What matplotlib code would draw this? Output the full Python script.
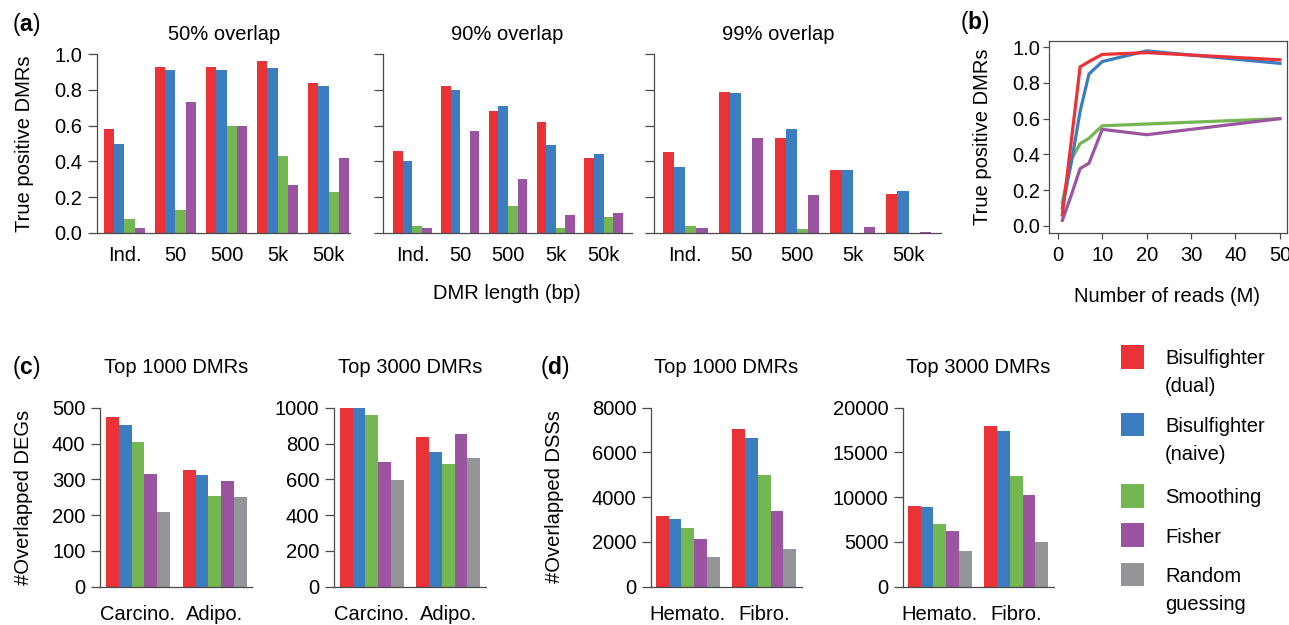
import matplotlib
matplotlib.use('Agg')
import matplotlib.pyplot as plt
from matplotlib.patches import Rectangle
import numpy as np

plt.rcParams['font.family'] = ['Liberation Sans', 'DejaVu Sans']
plt.rcParams['mathtext.fontset'] = 'custom'
plt.rcParams['mathtext.rm'] = 'Liberation Sans'
plt.rcParams['mathtext.bf'] = 'Liberation Sans:bold'

# methods and colours (shared by all panels)
methods = ['Bisulfighter\n(dual)', 'Bisulfighter\n(naive)', 'Smoothing', 'Fisher', 'Random\nguessing']
colors = ['#EA3337', '#3C7DC0', '#74B652', '#9B54A0', '#949599']

# panel (a): true positive DMRs by DMR length, one list per overlap level
dmr_lengths = ['Ind.', '50', '500', '5k', '50k']
overlaps = ['50% overlap', '90% overlap', '99% overlap']
a_dual = [[0.58, 0.93, 0.93, 0.96, 0.84], [0.46, 0.82, 0.68, 0.62, 0.42], [0.45, 0.79, 0.53, 0.35, 0.22]]
a_naive = [[0.50, 0.91, 0.91, 0.92, 0.82], [0.40, 0.80, 0.71, 0.49, 0.44], [0.37, 0.78, 0.58, 0.35, 0.235]]
a_smooth = [[0.08, 0.13, 0.60, 0.43, 0.23], [0.04, 0.0, 0.15, 0.03, 0.09], [0.04, 0.0, 0.02, 0.0, 0.0]]
a_fisher = [[0.03, 0.73, 0.60, 0.27, 0.42], [0.03, 0.57, 0.30, 0.10, 0.11], [0.03, 0.53, 0.21, 0.035, 0.006]]

# panel (b): true positive DMRs vs number of reads
reads = [1, 3, 5, 7, 10, 20, 50]
b_dual = [0.06, 0.47, 0.89, 0.92, 0.96, 0.97, 0.93]
b_naive = [0.10, 0.35, 0.64, 0.85, 0.92, 0.98, 0.91]
b_smooth = [0.13, 0.37, 0.46, 0.49, 0.56, 0.57, 0.60]
b_fisher = [0.03, 0.17, 0.32, 0.35, 0.54, 0.51, 0.60]

# panel (c): overlapped DEGs (dual, naive, smoothing, fisher, random)
c_cells = ['Carcino.', 'Adipo.']
deg_top1000 = [[473, 325], [453, 311], [403, 254], [316, 294], [208, 251]]
deg_top3000 = [[1002, 838], [1006, 750], [961, 685], [695, 855], [594, 721]]

# panel (d): overlapped DSSs
d_cells = ['Hemato.', 'Fibro.']
dss_top1000 = [[3144, 7048], [3025, 6661], [2623, 4993], [2131, 3383], [1341, 1669]]
dss_top3000 = [[8976, 17955], [8901, 17397], [7002, 12335], [6257, 10212], [3955, 4961]]

W, H = 1289, 625
fig = plt.figure(figsize=(W / 100, H / 100), dpi=100)
FS = 14.5
GREY = '#4a4a4a'


def px_axes(l, r, t, b):
    return fig.add_axes([l / W, 1 - b / H, (r - l) / W, (b - t) / H])


def ftext(x, y, s, **kw):
    kw.setdefault('fontsize', FS)
    return fig.text(x / W, 1 - y / H, s, **kw)


def r_style(ax, ymax, yticks, labels=True, fmt='{:g}', xpad=10):
    for side in ['top', 'right']:
        ax.spines[side].set_visible(False)
    for side in ['left', 'bottom']:
        ax.spines[side].set_color(GREY)
        ax.spines[side].set_linewidth(0.9)
    ax.spines['left'].set_bounds(0, ymax)
    ax.set_ylim(0, ymax)
    ax.set_yticks(yticks)
    ax.set_yticklabels([fmt.format(v) for v in yticks] if labels else [])
    ax.tick_params(axis='y', direction='out', length=6.5, width=0.9, color=GREY,
                   labelsize=FS, pad=4)
    ax.tick_params(axis='x', length=0, labelsize=FS, pad=xpad)


def grouped_bars(ax, series, cats, xlim, gap=1):
    n = len(series)
    for j, vals in enumerate(series):
        x = np.arange(len(cats)) * (n + gap) + j
        ax.bar(x, vals, width=1, align='edge', color=colors[j], linewidth=0)
    ax.set_xticks(np.arange(len(cats)) * (n + gap) + n / 2)
    ax.set_xticklabels(cats)
    ax.set_xlim(*xlim)


# ---- panel (a)
a_boxes = [(97, 350, -0.69, 24.1), (383, 632, -1.08, 24.97), (654, 941, -0.8, 24.9)]
a_title_x = [224, 507, 778]
for k, (l, r, x0, x1) in enumerate(a_boxes):
    ax = px_axes(l, r, 54, 233)
    series = [a_dual[k], a_naive[k], a_smooth[k], a_fisher[k]]
    grouped_bars(ax, series, dmr_lengths, (x0, x1))
    r_style(ax, 1.0, [0, 0.2, 0.4, 0.6, 0.8, 1.0], labels=(k == 0), fmt='{:.1f}', xpad=9.5)
    ftext(a_title_x[k], 40.5, overlaps[k], ha='center', va='baseline')

ftext(25, 143.5, 'True positive DMRs', rotation=90, ha='center', va='center')
ftext(507, 299, 'DMR length (bp)', ha='center', va='baseline')
ftext(12, 24, r'($\mathbf{a}$)', fontsize=16.5, va='center')

# ---- panel (b)
axb = px_axes(1049, 1287, 40.7, 233)
for vals, c in [(b_smooth, colors[2]), (b_fisher, colors[3]), (b_naive, colors[1]), (b_dual, colors[0])]:
    axb.plot(reads, vals, color=c, lw=2.3, solid_joinstyle='miter')
axb.set_xlim(-2, 51.6)
axb.set_ylim(-0.041, 1.037)
axb.set_xticks([0, 10, 20, 30, 40, 50])
axb.set_yticks([0, 0.2, 0.4, 0.6, 0.8, 1.0])
axb.set_yticklabels(['{:.1f}'.format(v) for v in axb.get_yticks()])
for side in axb.spines.values():
    side.set_color(GREY)
    side.set_linewidth(0.9)
axb.tick_params(direction='out', length=4.5, width=0.9, color=GREY, labelsize=FS)
axb.tick_params(axis='y', pad=2)
axb.tick_params(axis='x', pad=5)
ftext(982, 137, 'True positive DMRs', rotation=90, ha='center', va='center')
ftext(1167, 302, 'Number of reads (M)', ha='center', va='baseline')
ftext(960, 22, r'($\mathbf{b}$)', fontsize=16.5, va='center')

# ---- panel (c)
axc1 = px_axes(100, 252, 407.7, 586.7)
grouped_bars(axc1, deg_top1000, c_cells, (-0.47, 11.41))
r_style(axc1, 500, [0, 100, 200, 300, 400, 500], xpad=13.5)
axc2 = px_axes(334, 486, 407.7, 586.7)
grouped_bars(axc2, deg_top3000, c_cells, (-0.47, 11.47))
r_style(axc2, 1000, [0, 200, 400, 600, 800, 1000], xpad=13.5)
ftext(176, 373, 'Top 1000 DMRs', ha='center', va='baseline')
ftext(410, 373, 'Top 3000 DMRs', ha='center', va='baseline')
ftext(23.5, 497, '#Overlapped DEGs', rotation=90, ha='center', va='center')
ftext(12, 367, r'($\mathbf{c}$)', fontsize=16.5, va='center')

# ---- panel (d)
axd1 = px_axes(651, 802, 407.7, 586.7)
grouped_bars(axd1, dss_top1000, d_cells, (-0.39, 11.47))
r_style(axd1, 8000, [0, 2000, 4000, 6000, 8000], xpad=13.5)
axd2 = px_axes(903, 1054, 407.7, 586.7)
grouped_bars(axd2, dss_top3000, d_cells, (-0.39, 11.47))
r_style(axd2, 20000, [0, 5000, 10000, 15000, 20000], xpad=13.5)
ftext(726.5, 373, 'Top 1000 DMRs', ha='center', va='baseline')
ftext(978.5, 373, 'Top 3000 DMRs', ha='center', va='baseline')
ftext(554, 497, '#Overlapped DSSs', rotation=90, ha='center', va='center')
ftext(540, 367, r'($\mathbf{d}$)', fontsize=16.5, va='center')

# ---- legend
sq_tops = [345, 412.7, 484, 523.3, 562.7]
sq = 23.6
for name, c, top in zip(methods, colors, sq_tops):
    fig.add_artist(Rectangle((1120.7 / W, 1 - (top + sq) / H), sq / W, sq / H,
                             transform=fig.transFigure, facecolor=c, edgecolor='none'))
    for i, line in enumerate(name.split('\n')):
        ftext(1165, top + sq / 2 + 7.5 + 27.5 * i, line, va='baseline')

fig.savefig('out.png', dpi=100)
